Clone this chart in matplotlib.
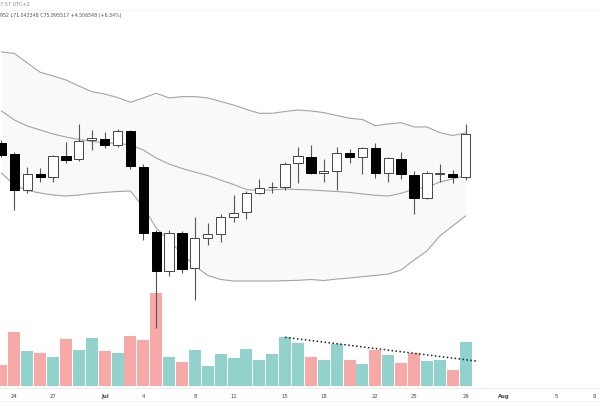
import matplotlib
matplotlib.use("Agg")
import matplotlib.pyplot as plt
import matplotlib.dates as mdates
import pandas as pd

# daily candles, Jun 23 -> Jul 29
dates = pd.date_range("2024-06-23", "2024-07-29", freq="D")

opens = [74.98, 73.81, 69.93, 71.73, 71.36, 73.54, 73.22, 75.24, 75.45, 74.76,
         76.25, 72.37, 65.52, 61.37, 65.36, 61.74, 64.88, 65.30, 67.08, 67.67,
         69.66, 70.25, 70.27, 72.82, 73.52, 71.82, 72.03, 73.94, 73.46, 74.41,
         71.76, 73.28, 71.57, 69.10, 71.73, 71.65, 71.39]
highs = [75.29, 74.02, 72.42, 72.32, 73.70, 75.08, 76.99, 76.36, 76.14, 76.46,
         76.36, 72.69, 65.73, 65.73, 65.62, 67.11, 66.47, 67.43, 69.45, 69.91,
         71.15, 70.80, 72.99, 74.58, 74.76, 73.28, 74.58, 74.31, 74.52, 74.94,
         73.52, 74.05, 72.00, 72.00, 72.71, 72.11, 76.995]
lows = [73.49, 67.86, 69.66, 70.83, 70.83, 72.85, 73.01, 74.18, 74.44, 74.55,
        72.21, 64.67, 55.32, 60.84, 61.16, 58.29, 64.14, 64.45, 66.61, 66.90,
        69.52, 69.63, 69.98, 70.69, 71.68, 70.86, 69.98, 72.82, 71.65, 71.22,
        70.86, 71.15, 67.43, 69.05, 70.86, 70.76, 71.04]
closes = [73.70, 69.98, 71.73, 71.31, 73.59, 73.12, 75.19, 75.53, 74.71, 76.25,
          72.48, 65.46, 61.37, 65.41, 61.59, 64.83, 65.30, 67.14, 67.50, 69.63,
          70.19, 70.30, 72.71, 73.63, 71.76, 72.03, 73.88, 73.46, 74.41, 71.76,
          73.35, 71.65, 69.10, 71.76, 71.79, 71.39, 75.90]

# volume (millions)
volumes = [2.10, 5.43, 3.47, 3.30, 2.90, 4.70, 3.57, 4.77, 3.50, 3.30,
           4.97, 4.57, 9.33, 2.90, 2.40, 3.60, 1.97, 3.17, 2.83, 3.67,
           2.60, 3.23, 4.87, 4.33, 2.90, 2.63, 4.17, 2.60, 2.23, 3.63,
           3.10, 2.33, 3.33, 2.53, 2.57, 1.63, 4.37]

# bollinger bands as shown
bb_upper = [84.65, 84.49, 83.48, 82.49, 82.10, 81.67, 81.03, 80.43, 80.18, 79.81,
            79.30, 79.76, 80.26, 79.76, 79.90, 79.90, 79.76, 79.39, 79.01, 78.54,
            78.13, 78.13, 78.32, 78.48, 78.38, 78.20, 77.90, 77.60, 77.47, 76.81,
            77.00, 77.13, 76.68, 76.68, 76.07, 75.77, 76.04]
bb_mid = [78.38, 77.42, 76.78, 76.36, 75.93, 75.61, 75.35, 75.14, 74.98, 74.94,
          74.76, 74.23, 73.38, 72.74, 72.27, 71.89, 71.52, 71.04, 70.56, 70.03,
          69.93, 69.98, 70.09, 70.03, 69.98, 69.90, 69.82, 69.72, 69.56, 69.42,
          69.34, 69.63, 70.09, 70.25, 70.83, 71.15, 71.50]
bb_lower = [71.79, 70.51, 69.93, 69.66, 69.45, 69.34, 69.45, 69.61, 69.72, 69.82,
            69.87, 68.17, 65.94, 64.61, 63.21, 61.90, 60.90, 60.47, 60.31, 60.31,
            60.31, 60.31, 60.34, 60.38, 60.47, 60.36, 60.52, 60.63, 60.77, 60.90,
            61.05, 61.48, 62.54, 63.50, 65.09, 66.16, 67.22]

# dotted volume trend line
trend_dates = ["2024-07-15", "2024-07-30"]
trend_vol = [4.87, 2.47]

tick_dates = ["2024-06-24", "2024-06-27", "2024-07-01", "2024-07-04", "2024-07-08",
              "2024-07-11", "2024-07-15", "2024-07-18", "2024-07-22", "2024-07-25",
              "2024-07-29", "2024-08-01", "2024-08-05", "2024-08-08"]
tick_labels = ["24", "27", "Jul", "4", "8", "11", "15", "18", "22", "25", "29",
               "Aug", "5", "8"]

UP_VOL = "#92d2cc"
DOWN_VOL = "#f7a9a7"

x = mdates.date2num(dates)

fig = plt.figure(figsize=(6, 4.11), dpi=100)
ax_vol = fig.add_axes([0, 23 / 411, 1, 358 / 411])
ax = ax_vol.twinx()

# --- volume (behind price) ---
vol_colors = [UP_VOL if c >= o else DOWN_VOL for o, c in zip(opens, closes)]
ax_vol.bar(x, volumes, width=0.93, color=vol_colors, edgecolor="none", zorder=1)
ax_vol.plot(mdates.date2num(pd.to_datetime(trend_dates)), trend_vol,
            linestyle=(0, (1, 1.6)), color="#222222", linewidth=1.1, zorder=3)
ax_vol.set_ylim(-0.2, 35.6)

# --- bollinger bands ---
ax.fill_between(x, bb_lower, bb_upper, color="#f9f9f9", linewidth=0, zorder=1)
for band in (bb_upper, bb_mid, bb_lower):
    ax.plot(x, band, color="#a4a4a4", linewidth=0.8, zorder=2)

# --- candles ---
ax.vlines(x, lows, highs, color="#555555", linewidth=0.8, zorder=3)
for xi, o, c in zip(x, opens, closes):
    up = c >= o
    bottom = min(o, c)
    height = max(abs(c - o), 0.06)
    ax.bar(xi, height, bottom=bottom, width=0.72,
           color="white" if up else "black",
           edgecolor="#444444" if up else "black",
           linewidth=0.7, zorder=4)

ax.set_ylim(48.94, 86.98)

start = x[0]
ax_vol.set_xlim(start - 0.116, start + 46.43)

# axes cosmetics
for a in (ax, ax_vol):
    for s in a.spines.values():
        s.set_visible(False)
    a.set_yticks([])
ax_vol.spines["bottom"].set_visible(True)
ax_vol.spines["bottom"].set_color("#eeeeee")
ax_vol.spines["bottom"].set_linewidth(0.8)

ax_vol.set_xticks(mdates.date2num(pd.to_datetime(tick_dates)))
ax_vol.set_xticklabels(tick_labels, fontsize=3.8, color="#444444")
ax_vol.tick_params(axis="x", length=0, pad=4.5)
for lbl in ax_vol.get_xticklabels():
    if lbl.get_text() in ("Jul", "Aug"):
        lbl.set_fontweight("bold")

# faint separators
fig.add_artist(plt.Line2D([0, 1], [1 - 401 / 411] * 2, color="#f2f2f2", linewidth=0.8))
fig.add_artist(plt.Line2D([0, 1], [1 - 10 / 411] * 2, color="#f4f4f4", linewidth=0.6))

# header text (cut off at the left edge)
fig.text(0.0, 1 - 5 / 411, "7:57 UTC+2", fontsize=3.6, color="#888888",
         ha="left", va="center")
fig.text(0.0, 1 - 16 / 411, "952 L71.043348 C75.895517 +4.506548 (+6.34%)",
         fontsize=3.4, color="#555555", ha="left", va="center")

fig.savefig("out.png", dpi=100, facecolor="white")
